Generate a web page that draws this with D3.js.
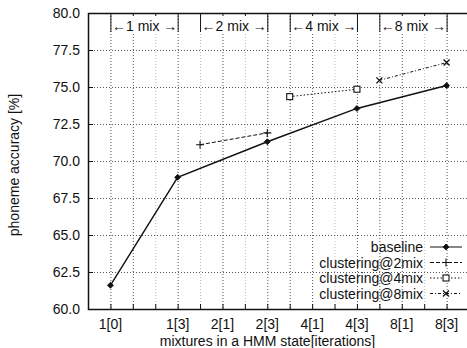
<!DOCTYPE html>
<html>
<head>
<meta charset="utf-8">
<script src="https://cdn.jsdelivr.net/npm/d3@7"></script>
<style>
	body { margin: 0; background: #fff; }
	svg { display: block; font-family: "Liberation Sans", Arial, sans-serif; }
	.tick-label { font-size: 14px; fill: #111; }
	.label { font-size: 14px; fill: #111; }
	.legend-text { font-size: 14px; fill: #111; }
</style>
</head>
<body>
<div id="chart"></div>
<script>
// x positions are slots on the iteration axis
const tickPos = [1, 4, 6, 8, 10, 12, 14, 16];
const tickLabels = ["1[0]", "1[3]", "2[1]", "2[3]", "4[1]", "4[3]", "8[1]", "8[3]"];
const yTicks = [60, 62.5, 65, 67.5, 70, 72.5, 75, 77.5, 80];

const baselineX = [1, 4, 8, 12, 16];
const baselineY = [61.6, 68.9, 71.3, 73.55, 75.1];
const clust2X = [5, 8];
const clust2Y = [71.1, 71.9];
const clust4X = [9, 12];
const clust4Y = [74.35, 74.85];
const clust8X = [13, 16];
const clust8Y = [75.45, 76.65];

const mixNames = ["1 mix", "2 mix", "4 mix", "8 mix"];
const mixStart = [1, 5, 9, 13];
const mixEnd = [4, 8, 12, 16];

const seriesNames = ["baseline", "clustering@2mix", "clustering@4mix", "clustering@8mix"];

const W = 467, H = 348;
const margin = { top: 13, right: -2, bottom: 39, left: 88 };

const svg = d3.select("#chart").append("svg")
	.attr("width", W)
	.attr("height", H);

const x = d3.scaleLinear().domain([0, 17]).range([margin.left, W - margin.right]);
const y = d3.scaleLinear().domain([60, 80]).range([H - margin.bottom, margin.top]);

const x0 = x(0), x1 = x(17), yTop = y(80), yBot = y(60);

// grid (vertical at every slot, horizontal at y ticks)
const lightGrid = [3, 5, 7, 11, 15];
const grid = svg.append("g");
for (let i = 1; i <= 16; i++) {
	grid.append("line")
		.attr("x1", x(i) + 0.5).attr("x2", x(i) + 0.5)
		.attr("y1", yTop).attr("y2", yBot)
		.attr("stroke", lightGrid.includes(i) ? "#bbb" : "#555")
		.attr("stroke-width", 1)
		.attr("stroke-dasharray", "1,2");
}
yTicks.slice(1, -1).forEach(v => {
	grid.append("line")
		.attr("x1", x0).attr("x2", x1)
		.attr("y1", Math.round(y(v)) + 0.5).attr("y2", Math.round(y(v)) + 0.5)
		.attr("stroke", "#555")
		.attr("stroke-width", 1)
		.attr("stroke-dasharray", "1,2");
});

// frame
svg.append("path")
	.attr("d", `M${x1},${Math.round(yTop) + 0.5}H${x0 + 0.5}V${Math.round(yBot) + 0.5}H${x1}`)
	.attr("fill", "none")
	.attr("stroke", "#111")
	.attr("stroke-width", 1.5);

// inward ticks on bottom and top
for (let i = 1; i <= 16; i++) {
	svg.append("line")
		.attr("x1", x(i) + 0.5).attr("x2", x(i) + 0.5)
		.attr("y1", yBot).attr("y2", yBot - 5)
		.attr("stroke", "#111");
	svg.append("line")
		.attr("x1", x(i) + 0.5).attr("x2", x(i) + 0.5)
		.attr("y1", yTop).attr("y2", yTop + 5)
		.attr("stroke", "#111");
}
yTicks.forEach(v => {
	svg.append("line")
		.attr("x1", x0).attr("x2", x0 + 5)
		.attr("y1", Math.round(y(v)) + 0.5).attr("y2", Math.round(y(v)) + 0.5)
		.attr("stroke", "#111");
});

// tick labels
svg.append("g").selectAll("text")
	.data(yTicks)
	.enter().append("text")
	.classed("tick-label", true)
	.attr("x", x0 - 8)
	.attr("y", d => y(d) + 5)
	.attr("text-anchor", "end")
	.text(d => d.toFixed(1));

svg.append("g").selectAll("text")
	.data(tickPos)
	.enter().append("text")
	.classed("tick-label", true)
	.attr("x", d => x(d))
	.attr("y", yBot + 20)
	.attr("text-anchor", "middle")
	.text((d, i) => tickLabels[i]);

// axis labels
svg.append("text")
	.classed("label", true)
	.attr("x", (x(1) + x(16)) / 2 - 11)
	.attr("y", H - 2)
	.attr("text-anchor", "middle")
	.text("mixtures in a HMM state[iterations]");

svg.append("text")
	.classed("label", true)
	.attr("transform", "rotate(-90)")
	.attr("x", -165)
	.attr("y", 19)
	.attr("text-anchor", "middle")
	.text("phoneme accuracy [%]");

// mix range annotations
const ann = svg.append("g");
mixNames.forEach((name, i) => {
	const a = x(mixStart[i]) + 0.5, b = x(mixEnd[i]) + 0.5, yy = 26;
	ann.append("line").attr("x1", a).attr("x2", a).attr("y1", yy - 8).attr("y2", yy + 6).attr("stroke", "#111");
	ann.append("line").attr("x1", b).attr("x2", b).attr("y1", yy - 8).attr("y2", yy + 6).attr("stroke", "#111");
	ann.append("rect")
		.attr("x", a + 1).attr("y", yy - 10)
		.attr("width", b - a - 2).attr("height", 18)
		.attr("fill", "#fff");
	ann.append("text")
		.classed("label", true)
		.attr("x", a + 1)
		.attr("y", yy + 5)
		.text("\u2190" + name.split(" ")[0]);
	ann.append("text")
		.classed("label", true)
		.attr("x", (a + b) / 2 + 4)
		.attr("y", yy + 5)
		.attr("text-anchor", "middle")
		.text("mix");
	ann.append("text")
		.classed("label", true)
		.attr("x", b - 1)
		.attr("y", yy + 5)
		.attr("text-anchor", "end")
		.text("\u2192");
});

// series
const series = [
	{ xs: baselineX, ys: baselineY, dash: null, marker: "diamond" },
	{ xs: clust2X, ys: clust2Y, dash: "4,2", marker: "plus" },
	{ xs: clust4X, ys: clust4Y, dash: "1.5,2", marker: "square" },
	{ xs: clust8X, ys: clust8Y, dash: "3,2,1,2", marker: "cross" }
];

function drawMarker(g, type, cx, cy) {
	if (type === "diamond") {
		g.append("path")
			.attr("d", `M${cx},${cy - 3}L${cx + 3},${cy}L${cx},${cy + 3}L${cx - 3},${cy}Z`)
			.attr("fill", "#111").attr("stroke", "#111").attr("stroke-width", 0.8);
	} else if (type === "plus") {
		g.append("path")
			.attr("d", `M${cx - 4},${cy}H${cx + 4}M${cx},${cy - 4}V${cy + 4}`)
			.attr("stroke", "#111").attr("stroke-width", 1.1);
	} else if (type === "square") {
		g.append("rect")
			.attr("x", cx - 3).attr("y", cy - 3).attr("width", 6).attr("height", 6)
			.attr("fill", "#fff").attr("stroke", "#111").attr("stroke-width", 1.1);
	} else {
		g.append("path")
			.attr("d", `M${cx - 3},${cy - 3}L${cx + 3},${cy + 3}M${cx - 3},${cy + 3}L${cx + 3},${cy - 3}`)
			.attr("stroke", "#111").attr("stroke-width", 1.3);
	}
}

const line = d3.line().x(d => x(d[0])).y(d => y(d[1]));
series.forEach(s => {
	const pts = s.xs.map((v, i) => [v, s.ys[i]]);
	svg.append("path")
		.datum(pts)
		.attr("d", line)
		.attr("fill", "none")
		.attr("stroke", "#111")
		.attr("stroke-width", s.dash ? 1 : 1.4)
		.attr("stroke-dasharray", s.dash);
	const g = svg.append("g");
	pts.forEach(p => drawMarker(g, s.marker, x(p[0]), y(p[1])));
});

// legend
const legend = svg.append("g");
series.forEach((s, i) => {
	const ly = 247 + i * 15.5;
	legend.append("text")
		.classed("legend-text", true)
		.attr("x", 423)
		.attr("y", ly + 5)
		.attr("text-anchor", "end")
		.text(seriesNames[i]);
	legend.append("line")
		.attr("x1", 430).attr("x2", 462)
		.attr("y1", ly).attr("y2", ly)
		.attr("stroke", "#111")
		.attr("stroke-width", 1)
		.attr("stroke-dasharray", s.dash);
	drawMarker(legend, s.marker, 446, ly);
});
</script>
</body>
</html>
